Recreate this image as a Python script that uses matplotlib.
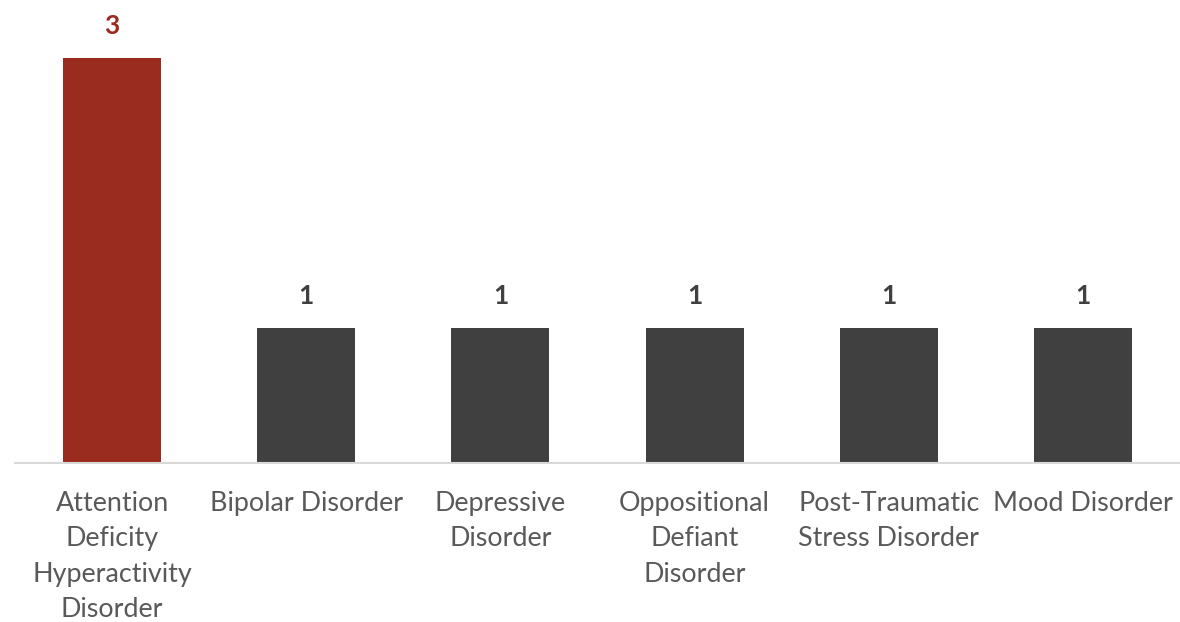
import matplotlib.pyplot as plt

categories = [
    "Attention\nDeficity\nHyperactivity\nDisorder",
    "Bipolar Disorder",
    "Depressive\nDisorder",
    "Oppositional\nDefiant\nDisorder",
    "Post-Traumatic\nStress Disorder",
    "Mood Disorder",
]
counts = [3, 1, 1, 1, 1, 1]
bar_colors = ["#9a2b1f", "#404040", "#404040", "#404040", "#404040", "#404040"]

plt.rcParams["font.family"] = ["Lato", "DejaVu Sans"]

fig = plt.figure(figsize=(11.8, 6.22), dpi=100)
ax = fig.add_axes([15 / 1180, (622 - 463) / 622, 1165 / 1180, 459 / 622])

x = list(range(len(counts)))
ax.bar(x, counts, width=0.505, color=bar_colors, zorder=2)
for xi, v, c in zip(x, counts, bar_colors):
    ax.annotate(str(v), (xi, v), xytext=(0, 23), textcoords="offset points",
                ha="center", va="center", fontsize=19, fontweight="bold", color=c)

ax.set_xlim(-0.5, len(counts) - 0.5)
ax.set_ylim(0, 3.4)
ax.set_yticks([])
ax.set_xticks(x)
ax.set_xticklabels(categories, fontsize=19.4, color="#595959", linespacing=1.52)
ax.tick_params(axis="x", length=0, pad=20)
for side in ["top", "right", "left"]:
    ax.spines[side].set_visible(False)
ax.spines["bottom"].set_color("#d9d9d9")
ax.spines["bottom"].set_linewidth(1.5)

fig.savefig("out.png", dpi=100)
